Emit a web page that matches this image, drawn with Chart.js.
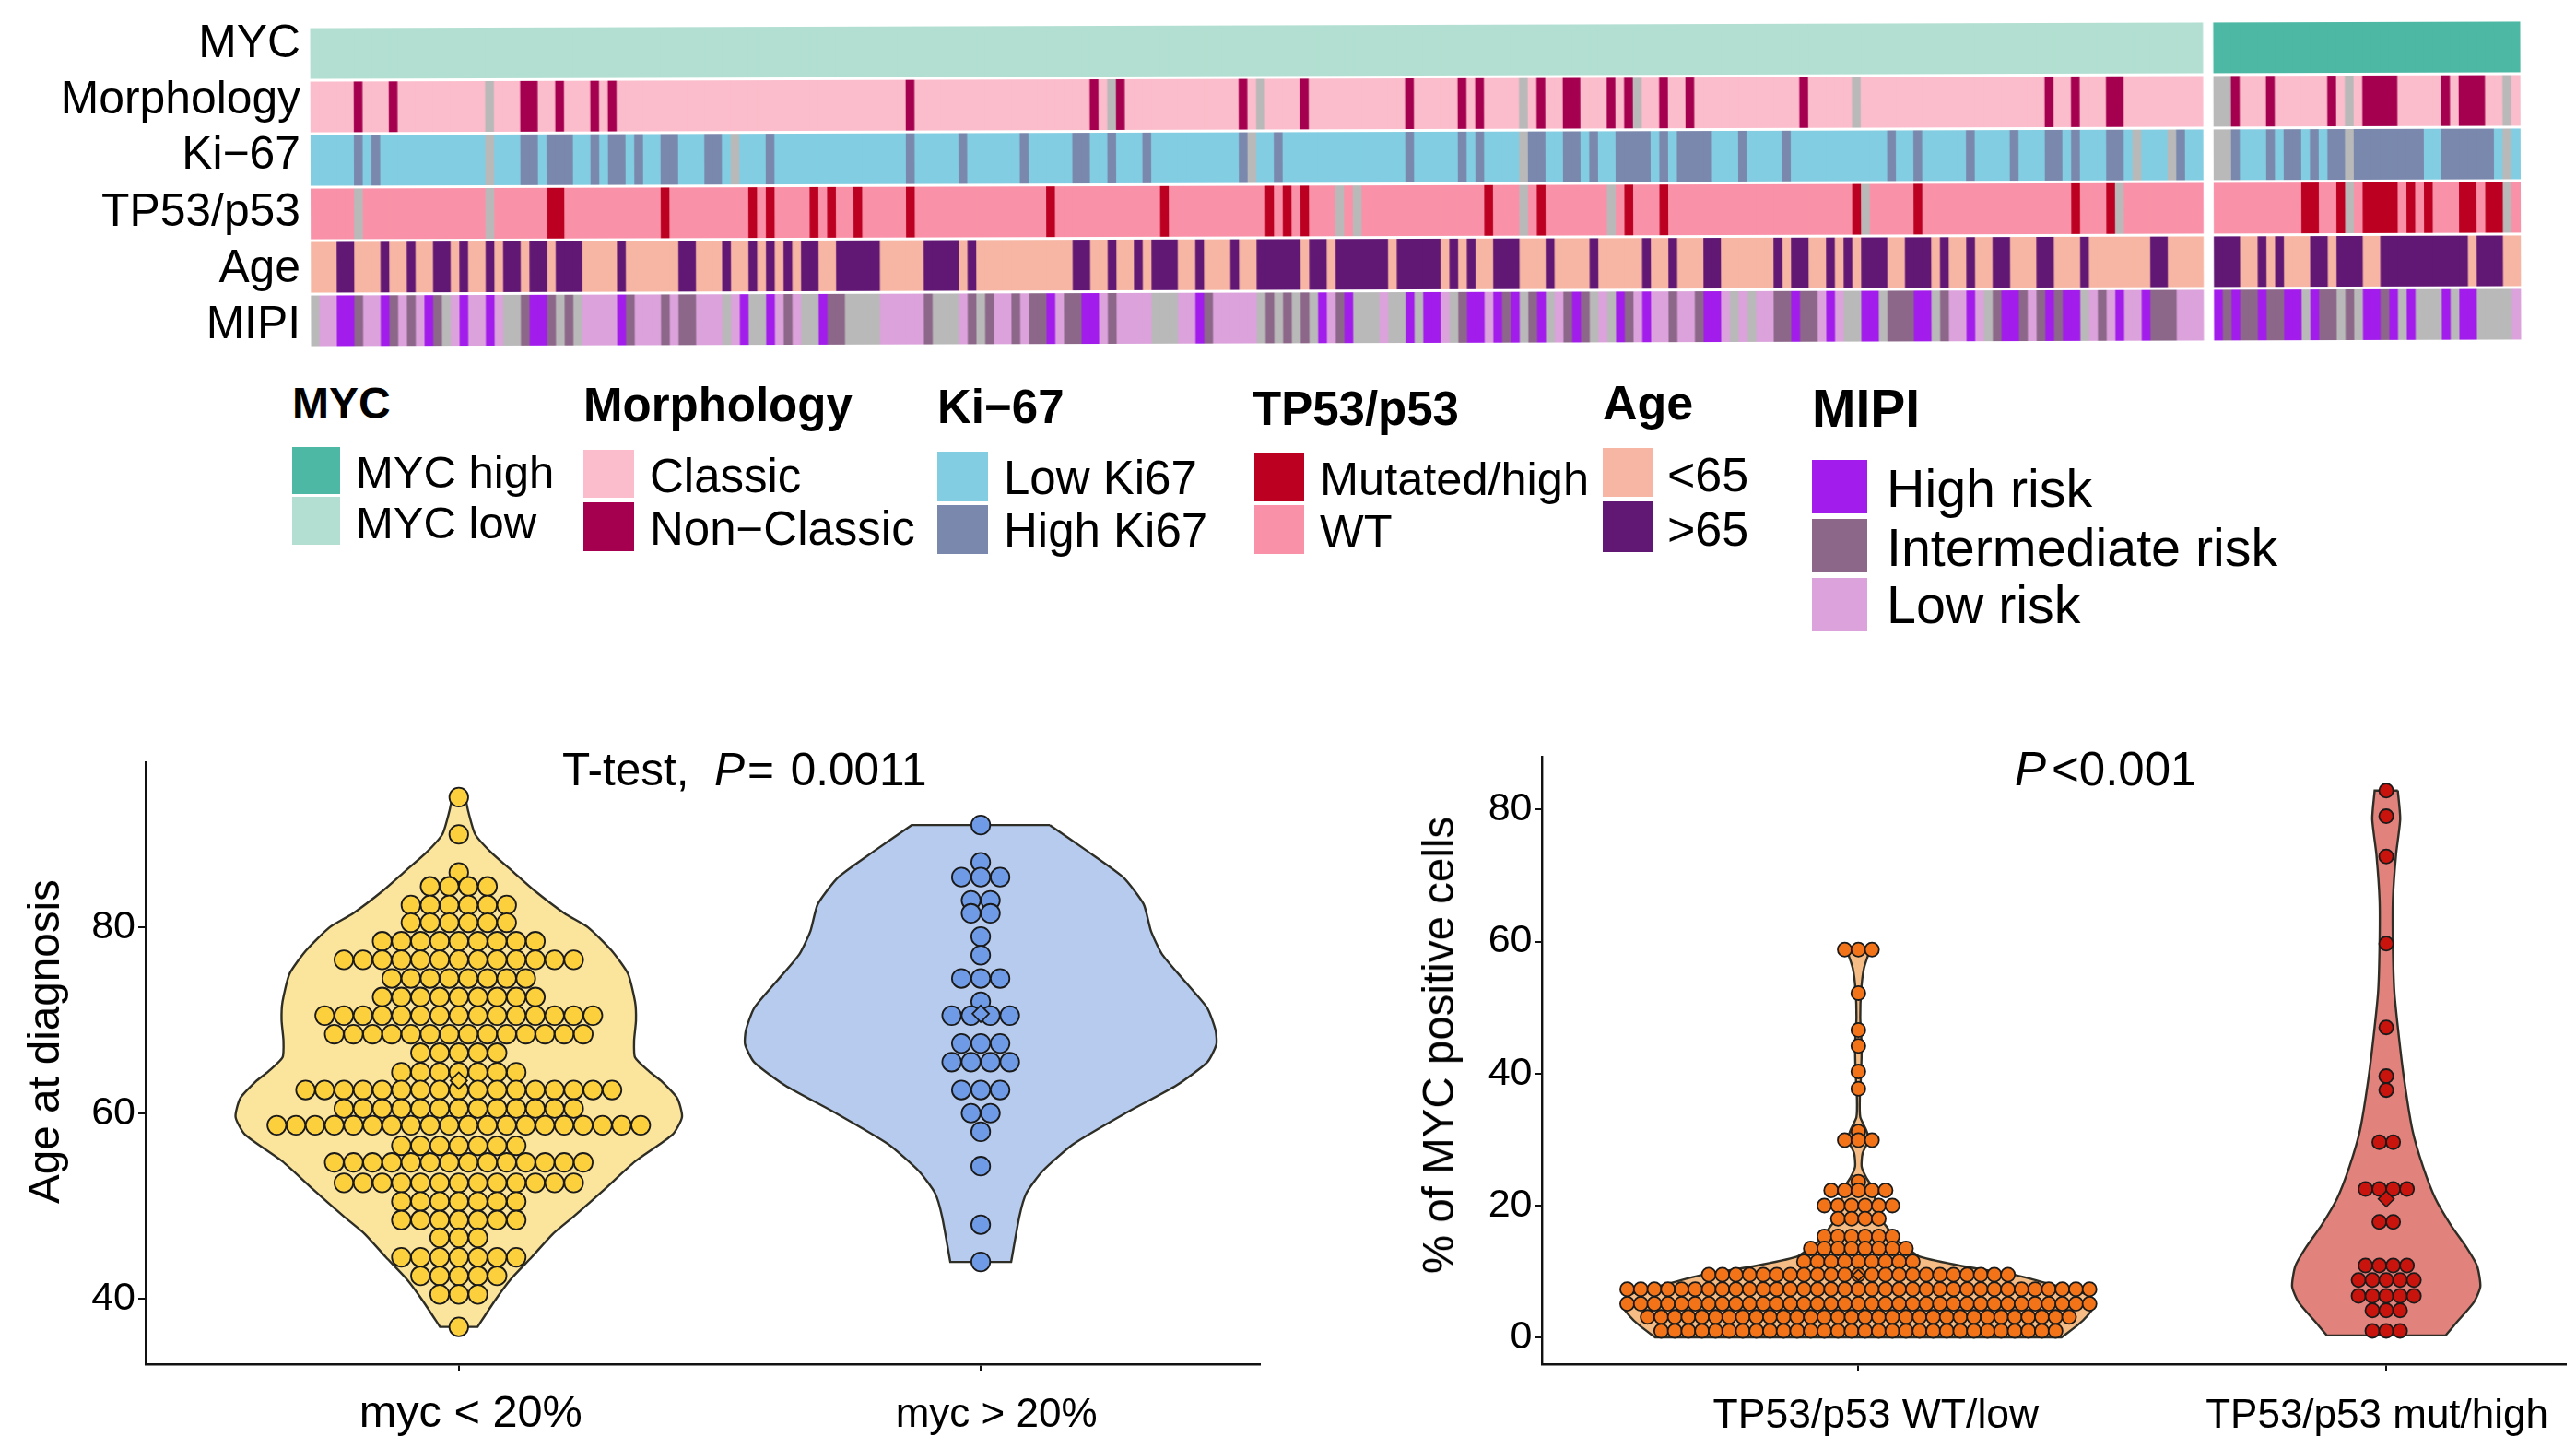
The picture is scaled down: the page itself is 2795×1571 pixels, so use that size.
<!DOCTYPE html>
<html>
<head>
<meta charset="utf-8">
<title>MYC heatmap and violin plots</title>
<script src="https://cdn.jsdelivr.net/npm/chart.js@4/dist/chart.umd.js"></script>
<style>
  html, body { margin: 0; padding: 0; background: #fff; }
  #page { position: relative; width: 2795px; height: 1571px; overflow: hidden; font-family: "Liberation Sans", Arial, sans-serif; color: #000; }
  #page canvas { position: absolute; }
  .txt { position: absolute; line-height: 0; white-space: pre; }
  .swatch { position: absolute; }
</style>
</head>
<body>
<div id="page"></div>
<script>
// Heatmap tracks, top to bottom
const tracks = ['MYC', 'Morphology', 'Ki\u221267', 'TP53/p53', 'Age', 'MIPI'];
const leftSamples = 216;
const rightSamples = 35;

// Each list holds the sample positions that differ from the track's main state
const mycHighFrom = 216;
const morphologyNonClassic = [5,9,24,25,28,32,34,68,89,92,106,113,125,131,133,140,143,144,148,150,154,157,170,198,201,205,206,218,222,229,233,234,235,236,242,244,245,246];
const morphologyMissing = [20,91,108,138,151,176,216,217,231,249];
const kiHigh = [5,7,24,25,27,28,29,32,34,35,37,40,41,45,46,52,68,74,81,87,88,91,95,106,110,125,131,133,139,140,143,144,146,149,150,151,152,154,156,157,158,159,163,168,180,183,189,194,198,199,201,205,206,213,218,222,224,225,227,229,230,232,233,234,235,236,237,238,239,242,243,244,245,246,247];
const kiMissing = [20,48,107,138,208,212,216,217,231,249];
const tp53Mutated = [27,28,40,50,52,57,59,62,68,84,97,109,111,113,134,140,150,154,176,183,201,205,226,227,230,233,234,235,236,238,240,244,245,247,248];
const tp53Missing = [5,20,117,119,138,148,177,206,231,249];
const ageOver65 = [3,4,8,11,14,15,17,20,22,23,25,26,28,29,30,35,42,43,47,50,52,54,56,57,60,61,62,63,64,70,71,72,73,75,87,88,91,94,96,97,98,101,105,108,109,110,111,112,114,115,117,118,119,120,121,122,124,125,126,127,128,130,132,135,136,137,141,146,152,155,159,160,167,169,170,173,175,177,178,179,182,183,184,186,189,192,193,197,198,202,210,211,216,217,218,221,223,227,228,230,231,232,235,236,237,238,239,240,241,242,243,244,246,247,248];
const mipiHigh = [3,4,8,13,17,20,25,26,35,49,52,58,84,88,89,101,115,118,125,127,128,132,133,135,137,140,144,149,152,159,160,169,173,177,178,183,184,189,193,194,198,200,201,206,209,216,218,221,224,225,227,233,234,236,238,242,244,245];
const mipiIntermediate = [5,9,11,14,24,27,29,36,40,42,43,54,59,60,70,75,77,80,82,83,86,87,91,102,109,111,113,117,131,136,139,143,145,150,155,158,167,168,170,171,180,181,182,186,192,195,197,199,204,210,211,212,217,219,220,222,223,228,229,231,235];
const mipiMissing = [0,15,22,23,28,30,47,50,51,56,57,61,62,63,64,71,72,73,76,96,97,98,108,110,112,114,119,120,121,123,124,126,130,138,141,146,148,162,164,175,176,179,185,191,202,226,230,232,237,239,240,241,243,246,247,248,249];

// Legend
const legendTitles = ['MYC', 'Morphology', 'Ki\u221267', 'TP53/p53', 'Age', 'MIPI'];
const legendLabels = [
  ['MYC high', 'MYC low'],
  ['Classic', 'Non\u2212Classic'],
  ['Low Ki67', 'High Ki67'],
  ['Mutated/high', 'WT'],
  ['<65', '>65'],
  ['High risk', 'Intermediate risk', 'Low risk']
];
const legendColors = [
  ['#4DB8A4', '#B2DFD1'],
  ['#FBBCCB', '#A50050'],
  ['#82CDE2', '#7A88AD'],
  ['#BC0021', '#F992A8'],
  ['#F6B6A3', '#611875'],
  ['#A21CEB', '#8C6789', '#DBA2DB']
];
const missingColor = '#B9B9B9';

// Left violin plot: age at diagnosis
const ageCategories = ['myc < 20%', 'myc > 20%'];
const lowAgeRows = [94,90,85.9,84.4,82.4,80.5,78.5,76.5,74.5,72.5,70.5,68.5,66.5,64.4,62.5,60.5,58.7,56.5,54.7,52.5,50.5,48.5,46.6,44.5,42.5,40.5,37];
const lowAgeCounts = [1,1,1,4,6,6,9,13,8,9,15,14,5,7,17,13,20,7,14,13,7,7,3,7,5,3,1];
const lowAgeMean = 63.5;
const lowViolinLevels = [94,92.5,90,88,86,84,81.5,80,77.5,75,72,70,67.8,66,64.5,63.5,61.6,59.6,57.7,54.8,51.8,48.9,47,44.5,42.1,39.7,37];
const lowViolinWidths = [.0126,.018,.0315,.063,.1036,.144,.2026,.2476,.2927,.3242,.3377,.3395,.3359,.3377,.3647,.3872,.4187,.4277,.4097,.3377,.2792,.2206,.1801,.1396,.0991,.0675,.036];
const highAgeRows = [91,87,85.4,82.9,81.5,79,77,74.5,72,70.5,67.5,65.5,62.5,60,58,54.3,48,44];
const highAgeCounts = [1,1,3,2,2,1,1,3,1,4,3,4,3,2,1,1,1,1];
const highAgeMean = 70.7;
const highViolinLevels = [91,88.3,85.4,82.5,79.6,77.1,74.2,71.3,68.9,67.4,65.5,63,60.1,56.7,53.8,51.4,48.9,44];
const highViolinWidths = [.1324,.2017,.2727,.3121,.3262,.3475,.3909,.4342,.45,.4515,.4342,.3751,.2805,.1781,.119,.0875,.0741,.0583];

// Right violin plot: % of MYC positive cells
const tp53Categories = ['TP53/p53 WT/low', 'TP53/p53 mut/high'];
const wtRows = [58.8,52.2,46.6,44.2,40.3,37.7,31.2,29.9,23.6,22.3,20,18,15.3,13.5,11.5,9.5,7.3,5.1,3.1,1];
const wtCounts = [3,1,1,1,1,1,1,3,1,5,6,4,6,8,9,23,35,35,32,30];
const wtMean = 9.45;
const wtViolinLevels = [58.8,56,52.6,48.5,44.4,40.3,36.2,33.4,31.4,30,27.9,25.9,24.2,22.5,20,18,16.6,15.3,13.6,12.2,10.8,9.5,8.2,6.4,5,3.3,1.9,0];
const wtViolinWidths = [.0223,.0107,.0053,.0036,.0062,.0053,.0027,.0036,.0151,.0196,.008,.0062,.0151,.0285,.033,.0419,.0552,.0641,.0909,.1176,.1978,.2958,.3581,.4365,.449,.4339,.416,.3849];
const mutRows = [82.9,79,72.9,59.7,47,39.6,37.5,29.6,22.5,17.5,10.9,8.7,6.3,4.1,1];
const mutCounts = [1,1,1,1,1,1,1,2,4,2,4,5,5,3,3];
const mutMean = 21;
const mutViolinLevels = [82.9,78.6,73.2,66.3,59.5,52.6,47.1,39.6,31.4,25.9,21.1,17,13.6,10.8,7.7,5.3,1.9,.3];
const mutViolinWidths = [.0219,.0265,.0186,.0126,.0126,.0152,.0219,.0331,.0497,.0696,.0928,.1226,.1524,.1723,.1783,.1657,.1292,.1127];

const FONT = '"Liberation Sans", Arial, sans-serif';
const page = document.getElementById('page');

// Text placed by its baseline
function addText(text, x, baseline, size, opts = {}) {
  const el = document.createElement('div');
  el.className = 'txt';
  if (opts.html) el.innerHTML = text; else el.textContent = text;
  el.style.fontSize = size + 'px';
  el.style.top = (baseline - 0.3465 * size) + 'px';
  el.style.left = x + 'px';
  if (opts.bold) el.style.fontWeight = 'bold';
  if (opts.right) el.style.transform = 'translateX(-100%)';
  page.appendChild(el);
  return el;
}

// Rotated axis title: x is the baseline, y the middle of the text
function addAxisTitle(text, x, y, size) {
  const el = document.createElement('div');
  el.className = 'txt';
  el.textContent = text;
  el.style.fontSize = size + 'px';
  el.style.left = (x - 0.3465 * size) + 'px';
  el.style.top = y + 'px';
  el.style.transform = 'translateX(-50%) rotate(-90deg)';
  page.appendChild(el);
}

function addCanvas(x, y, w, h) {
  const canvas = document.createElement('canvas');
  canvas.width = w;
  canvas.height = h;
  canvas.style.left = x + 'px';
  canvas.style.top = y + 'px';
  canvas.style.width = w + 'px';
  canvas.style.height = h + 'px';
  page.appendChild(canvas);
  return canvas;
}

// Which state a sample has on a track
function stateOf(trackIndex, i) {
  switch (trackIndex) {
    case 0: return i >= mycHighFrom ? legendColors[0][0] : legendColors[0][1];
    case 1: return morphologyMissing.includes(i) ? missingColor : morphologyNonClassic.includes(i) ? legendColors[1][1] : legendColors[1][0];
    case 2: return kiMissing.includes(i) ? missingColor : kiHigh.includes(i) ? legendColors[2][1] : legendColors[2][0];
    case 3: return tp53Missing.includes(i) ? missingColor : tp53Mutated.includes(i) ? legendColors[3][0] : legendColors[3][1];
    case 4: return ageOver65.includes(i) ? legendColors[4][1] : legendColors[4][0];
    default: return mipiMissing.includes(i) ? missingColor : mipiHigh.includes(i) ? legendColors[5][0] : mipiIntermediate.includes(i) ? legendColors[5][1] : legendColors[5][2];
  }
}

// Heatmap as floating horizontal bars, one bar per sample and track
function drawHeatmap() {
  const canvas = addCanvas(0, 0, 2795, 400);
  canvas.style.transform = 'rotate(-0.17deg)';
  canvas.style.transformOrigin = '1536px 200px';

  const groupGap = 1.26;
  const bars = [];
  const colors = [];
  tracks.forEach((track, t) => {
    for (let i = 0; i < leftSamples + rightSamples; i++) {
      const start = i < leftSamples ? i : i + groupGap;
      bars.push({ y: track, x: [start, start + 1] });
      colors.push(stateOf(t, i));
    }
  });

  new Chart(canvas, {
    type: 'bar',
    data: {
      labels: tracks,
      datasets: [{ data: bars, backgroundColor: colors, borderWidth: 0, inflateAmount: 0.45, barPercentage: 54 / 58, categoryPercentage: 1 }]
    },
    options: {
      indexAxis: 'y',
      responsive: false,
      animation: false,
      events: [],
      layout: { padding: { top: 25.5, bottom: 26.5, right: 60, left: 0 } },
      plugins: { legend: { display: false }, tooltip: { enabled: false } },
      scales: {
        x: { type: 'linear', display: false, min: 0, max: leftSamples + rightSamples + groupGap },
        y: {
          type: 'category',
          grid: { display: false },
          border: { display: false },
          ticks: { display: false },
          afterFit: scale => { scale.width = 337; }
        }
      }
    }
  });

  const labelBaselines = [62, 123, 183, 245, 306, 367];
  tracks.forEach((track, t) => addText(track, 326, labelBaselines[t], 49.8, { right: true }));
}

// Legend blocks below the heatmap
function drawLegend() {
  const layout = [
    { x: 317, w: 52, titleY: 455, titleSize: 48, textX: 386, size: 49, tops: [485, 539], bottoms: [536, 591], base: [529, 584] },
    { x: 633, w: 55, titleY: 458, titleSize: 51, textX: 705, size: 51, tops: [488, 545], bottoms: [540, 598], base: [535, 592] },
    { x: 1017, w: 55, titleY: 460, titleSize: 51, textX: 1089, size: 51, tops: [490, 548], bottoms: [544, 601], base: [537, 594] },
    { x: 1359, w: 54, titleY: 462, titleSize: 51, textX: 1432, size: 50.5, tops: [492, 548], bottoms: [544, 601], base: [537, 594] },
    { x: 1739, w: 54, titleY: 455, titleSize: 52, textX: 1809, size: 52, tops: [486, 544], bottoms: [539, 599], base: [533, 592] },
    { x: 1966, w: 60, titleY: 463, titleSize: 57, textX: 2047, size: 57.4, tops: [499, 563, 627], bottoms: [557, 621, 685], base: [550, 614, 676] }
  ];
  legendTitles.forEach((title, g) => {
    const box = layout[g];
    addText(title, box.x, box.titleY, box.titleSize, { bold: true });
    legendLabels[g].forEach((label, i) => {
      const swatch = document.createElement('div');
      swatch.className = 'swatch';
      swatch.style.left = (g === 3 ? box.x + 2 : box.x) + 'px';
      swatch.style.top = box.tops[i] + 'px';
      swatch.style.width = box.w + 'px';
      swatch.style.height = (box.bottoms[i] - box.tops[i]) + 'px';
      swatch.style.background = legendColors[g][i];
      page.appendChild(swatch);
      addText(label, box.textX, box.base[i], box.size);
    });
  });
}

// Closed violin outline around a category position; doubled corner points stay sharp
function violinOutline(center, levels, widths) {
  const right = levels.map((y, i) => ({ x: center + widths[i], y }));
  const left = levels.map((y, i) => ({ x: center - widths[i], y })).reverse();
  return [right[0], ...right, right[right.length - 1], left[0], ...left, left[left.length - 1], right[0]];
}

// Dots of one row sit side by side, centred on the category
function dotRows(center, rows, counts, step) {
  const points = [];
  rows.forEach((y, r) => {
    for (let k = 0; k < counts[r]; k++) {
      points.push({ x: center + (k - (counts[r] - 1) / 2) * step, y });
    }
  });
  return points;
}

function violinSet(outline, fill) {
  return {
    type: 'scatter', data: outline, showLine: true, fill: 'shape', backgroundColor: fill,
    borderColor: '#2E2E26', borderWidth: 2.4, pointRadius: 0, tension: 0.2, order: 3
  };
}

function dotSet(points, fill, radius, border) {
  return {
    type: 'scatter', data: points, backgroundColor: fill, borderColor: '#1A1A1A',
    borderWidth: border, pointRadius: radius, order: 2
  };
}

function meanSet(x, y, fill, radius, border) {
  return {
    type: 'scatter', data: [{ x, y }], pointStyle: 'rectRot', backgroundColor: fill, borderColor: '#1A1A1A',
    borderWidth: border, pointRadius: radius, order: 1
  };
}

// x labels sit a little off their ticks in the figure
const shiftedLabels = {
  id: 'shiftedLabels',
  afterDraw(chart, args, opts) {
    const ctx = chart.ctx;
    const xScale = chart.scales.x;
    ctx.save();
    ctx.fillStyle = '#000';
    ctx.textAlign = 'center';
    ctx.textBaseline = 'alphabetic';
    opts.labels.forEach((label, i) => {
      ctx.font = opts.sizes[i] + 'px ' + FONT;
      ctx.fillText(label, xScale.getPixelForValue(i + 1) + opts.shifts[i], opts.baseline);
    });
    ctx.restore();
  }
};

function violinChart(canvas, datasets, cfg) {
  new Chart(canvas, {
    data: { datasets },
    plugins: [shiftedLabels],
    options: {
      responsive: false,
      animation: false,
      events: [],
      layout: { padding: { top: cfg.top, right: cfg.right, left: 0, bottom: 0 } },
      plugins: {
        legend: { display: false },
        tooltip: { enabled: false },
        shiftedLabels: { labels: cfg.labels, sizes: cfg.sizes, shifts: cfg.shifts, baseline: cfg.baseline }
      },
      scales: {
        x: {
          type: 'linear', min: cfg.xMin, max: cfg.xMax,
          grid: { drawOnChartArea: false, drawTicks: true, tickLength: 7, color: '#111', lineWidth: 2 },
          border: { display: true, color: '#111', width: 2.4 },
          ticks: { display: false },
          afterBuildTicks: scale => { scale.ticks = [{ value: 1 }, { value: 2 }]; },
          afterFit: scale => { scale.height = cfg.axisHeight; scale.paddingLeft = 0; scale.paddingRight = 0; }
        },
        y: {
          type: 'linear', min: cfg.yMin, max: cfg.yMax,
          grid: { drawOnChartArea: false, drawTicks: true, tickLength: 8, color: '#111', lineWidth: 2 },
          border: { display: true, color: '#111', width: 2.4 },
          ticks: { stepSize: 20, includeBounds: false, padding: 3, color: '#000', font: { family: FONT, size: 43 } },
          // keep the plot area pinned, tick labels should not push it in
          afterFit: scale => { scale.width = cfg.axisWidth; scale.paddingTop = 0; scale.paddingBottom = 0; }
        }
      }
    }
  });
}

function drawAgeViolins() {
  const canvas = addCanvas(0, 800, 1400, 771);
  const datasets = [
    violinSet(violinOutline(1, lowViolinLevels, lowViolinWidths), '#FBE49B'),
    violinSet(violinOutline(2, highViolinLevels, highViolinWidths), '#B6CBEE'),
    dotSet(dotRows(1, lowAgeRows, lowAgeCounts, 0.0367), '#FCD03C', 10.2, 1.8),
    dotSet(dotRows(2, highAgeRows, highAgeCounts, 0.0371), '#6F9BE6', 10.2, 1.8),
    meanSet(1, lowAgeMean, '#FCD03C', 9, 1.8),
    meanSet(2, highAgeMean, '#6F9BE6', 9, 1.8)
  ];
  violinChart(canvas, datasets, {
    top: 27, right: 33.5, axisWidth: 158, axisHeight: 91,
    xMin: 0.4, xMax: 2.534, yMin: 33, yMax: 97.76,
    labels: ageCategories, sizes: [48.7, 44], shifts: [13, 17], baseline: 748
  });
  addAxisTitle('Age at diagnosis', 64, 1130, 47.6);
  addText('T-test,  <i style="margin-right:3px">P</i><span style="margin-right:4px">=</span> 0.0011', 610, 852, 49.5, { html: true });
}

function drawMycViolins() {
  const canvas = addCanvas(1500, 800, 1295, 771);
  const datasets = [
    violinSet(violinOutline(1, wtViolinLevels, wtViolinWidths), '#F6BC85'),
    violinSet(violinOutline(2, mutViolinLevels, mutViolinWidths), '#E1827D'),
    dotSet(dotRows(1, wtRows, wtCounts, 0.02576), '#F27318', 7.6, 1.8),
    dotSet(dotRows(2, mutRows, mutCounts, 0.0262), '#C8140C', 7.6, 1.8),
    meanSet(1, wtMean, '#F27318', 6, 1.6),
    meanSet(2, mutMean, '#C8140C', 8.5, 1.6)
  ];
  violinChart(canvas, datasets, {
    top: 21.6, right: 10.6, axisWidth: 173.5, axisHeight: 90.6,
    xMin: 0.4014, xMax: 2.341, yMin: -4.1, yMax: 87.94,
    labels: tp53Categories, sizes: [44.5, 44], shifts: [19, -10], baseline: 749
  });
  addAxisTitle('% of MYC positive cells', 1577, 1134, 47.5);
  addText('<i style="margin-right:6px">P</i><0.001', 2186, 853, 51, { html: true });
}

drawHeatmap();
drawLegend();
drawAgeViolins();
drawMycViolins();
</script>
</body>
</html>
